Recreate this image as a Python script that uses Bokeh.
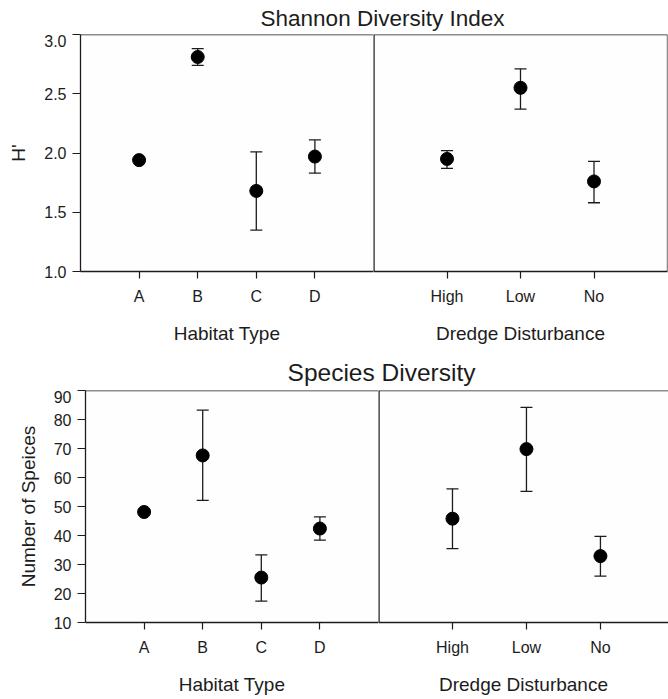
from bokeh.plotting import figure
from bokeh.models import ColumnDataSource, Whisker, TeeHead, Range1d, Label, FixedTicker, Span
from bokeh.layouts import column, row
from bokeh.embed import file_html
from bokeh.resources import INLINE

FONT = "Liberation Sans"
INK = "#1c1c1c"

# ---- data ----
habitat = ["A", "B", "C", "D"]
dredge = ["High", "Low", "No"]

shannon_hab_mean = [1.94, 2.81, 1.68, 1.97]
shannon_hab_lower = [1.94, 2.74, 1.35, 1.83]
shannon_hab_upper = [1.94, 2.88, 2.01, 2.11]

shannon_dre_mean = [1.95, 2.55, 1.76]
shannon_dre_lower = [1.87, 2.37, 1.58]
shannon_dre_upper = [2.02, 2.71, 1.93]

species_hab_mean = [48.1, 67.6, 25.5, 42.4]
species_hab_lower = [48.1, 52.1, 17.4, 38.4]
species_hab_upper = [48.1, 83.2, 33.3, 46.4]

species_dre_mean = [45.8, 69.8, 32.9]
species_dre_lower = [35.5, 55.2, 26.0]
species_dre_upper = [56.1, 84.2, 39.7]

shannon_ticks = [1.0, 1.5, 2.0, 2.5, 3.0]
shannon_tick_labels = ["1.0", "1.5", "2.0", "2.5", "3.0"]
species_ticks = [10, 20, 30, 40, 50, 60, 70, 80, 90]
species_tick_labels = [str(t) for t in species_ticks]

TOTAL_W = 668


def panel(factors, mean, lower, upper, yrange, ticks, tick_labels, x_end,
          width, height, left_border, right_border, bottom_border,
          ylabel, ylabel_standoff, xlabel, is_left, right_edge):
    pos = [i + 1 for i in range(len(factors))]
    p = figure(x_range=Range1d(0, x_end), y_range=Range1d(*yrange), width=width, height=height,
               min_border_left=left_border, min_border_right=right_border, min_border_top=0,
               min_border_bottom=bottom_border, toolbar_location=None,
               output_backend="svg", y_axis_location="left" if is_left else None)
    p.xgrid.visible = False
    p.ygrid.visible = False
    p.outline_line_color = None
    p.background_fill_color = "#fefefe"
    p.border_fill_color = "white"

    # frame edges
    p.add_layout(Span(location=yrange[1], dimension="width", line_color=INK, line_width=1.3))
    if not is_left:
        p.add_layout(Span(location=0, dimension="height", line_color=INK, line_width=2.4))
    if right_edge:
        p.add_layout(Span(location=x_end, dimension="height", line_color=INK, line_width=1.3))

    src = ColumnDataSource(dict(x=pos, y=mean, lo=lower, hi=upper))
    w = Whisker(base="x", lower="lo", upper="hi", source=src, dimension="height",
                line_color=INK, line_width=1.3,
                upper_head=TeeHead(size=12, line_color=INK, line_width=1.3),
                lower_head=TeeHead(size=12, line_color=INK, line_width=1.3))
    p.add_layout(w)
    p.scatter("x", "y", source=src, size=13, color="black")

    ax = p.xaxis[0]
    ax.ticker = FixedTicker(ticks=pos)
    ax.major_label_overrides = {x: f for x, f in zip(pos, factors)}
    ax.axis_line_color = INK
    ax.axis_line_width = 1.3
    ax.major_tick_line_color = INK
    ax.major_tick_line_width = 1.2
    ax.major_tick_in = 0
    ax.major_tick_out = 7
    ax.minor_tick_line_color = None
    ax.major_label_text_font = FONT
    ax.major_label_text_font_size = "16px"
    ax.major_label_text_color = INK
    ax.major_label_standoff = 9
    ax.axis_label = xlabel
    ax.axis_label_text_font = FONT
    ax.axis_label_text_font_size = "19px"
    ax.axis_label_text_font_style = "normal"
    ax.axis_label_text_color = INK
    ax.axis_label_standoff = 15

    if is_left:
        ay = p.yaxis[0]
        ay.ticker = FixedTicker(ticks=ticks)
        ay.major_label_overrides = {t: l for t, l in zip(ticks, tick_labels)}
        ay.axis_line_color = INK
        ay.axis_line_width = 1.3
        ay.major_tick_line_color = INK
        ay.major_tick_line_width = 1.2
        ay.major_tick_in = 0
        ay.major_tick_out = 8
        ay.minor_tick_line_color = None
        ay.major_label_text_font = FONT
        ay.major_label_text_font_size = "16px"
        ay.major_label_text_color = INK
        ay.major_label_standoff = 6
        ay.axis_label = ylabel
        ay.axis_label_text_font = FONT
        ay.axis_label_text_font_size = "19px"
        ay.axis_label_text_font_style = "normal"
        ay.axis_label_text_color = INK
        ay.axis_label_standoff = ylabel_standoff
    return p


def title_fig(text, height, size, cx, cy):
    t = figure(width=TOTAL_W, height=height, x_range=Range1d(0, TOTAL_W),
               y_range=Range1d(0, height), min_border=0, toolbar_location=None,
               output_backend="svg", x_axis_location=None, y_axis_location=None)
    t.outline_line_color = None
    t.xgrid.visible = False
    t.ygrid.visible = False
    t.add_layout(Label(x=cx, y=height - cy, text=text, text_align="center",
                       text_baseline="middle", text_font=FONT,
                       text_font_size=f"{size}px", text_color=INK))
    return t


t1 = title_fig("Shannon Diversity Index", 34, 22.5, 382, 18)
top_h = 237 + 81
tl = panel(habitat, shannon_hab_mean, shannon_hab_lower, shannon_hab_upper, (1.0, 3.0),
           shannon_ticks, shannon_tick_labels, len(habitat) + 1,
           373, top_h, 80, 0, 81, "H'", 12, "Habitat Type", True, False)
tr = panel(dredge, shannon_dre_mean, shannon_dre_lower, shannon_dre_upper, (1.0, 3.0),
           shannon_ticks, shannon_tick_labels, len(dredge) + 1,
           TOTAL_W - 373, top_h, 0, 1, 81, "", 0, "Dredge Disturbance", False, True)

t2 = title_fig("Species Diversity", 38, 24.5, 381, 20)
bot_h = 234 + 73
bl = panel(habitat, species_hab_mean, species_hab_lower, species_hab_upper, (10, 90),
           species_ticks, species_tick_labels, len(habitat) + 1,
           378, bot_h, 85, 0, 73, "Number of Speices", 12, "Habitat Type", True, False)
br = panel(dredge, species_dre_mean, species_dre_lower, species_dre_upper, (10, 90),
           species_ticks, species_tick_labels, 3.92,
           TOTAL_W - 378, bot_h, 0, 0, 73, "", 0, "Dredge Disturbance", False, False)

layout = column(t1, row(tl, tr), t2, row(bl, br))
open("out.html", "w").write(file_html(layout, INLINE))
